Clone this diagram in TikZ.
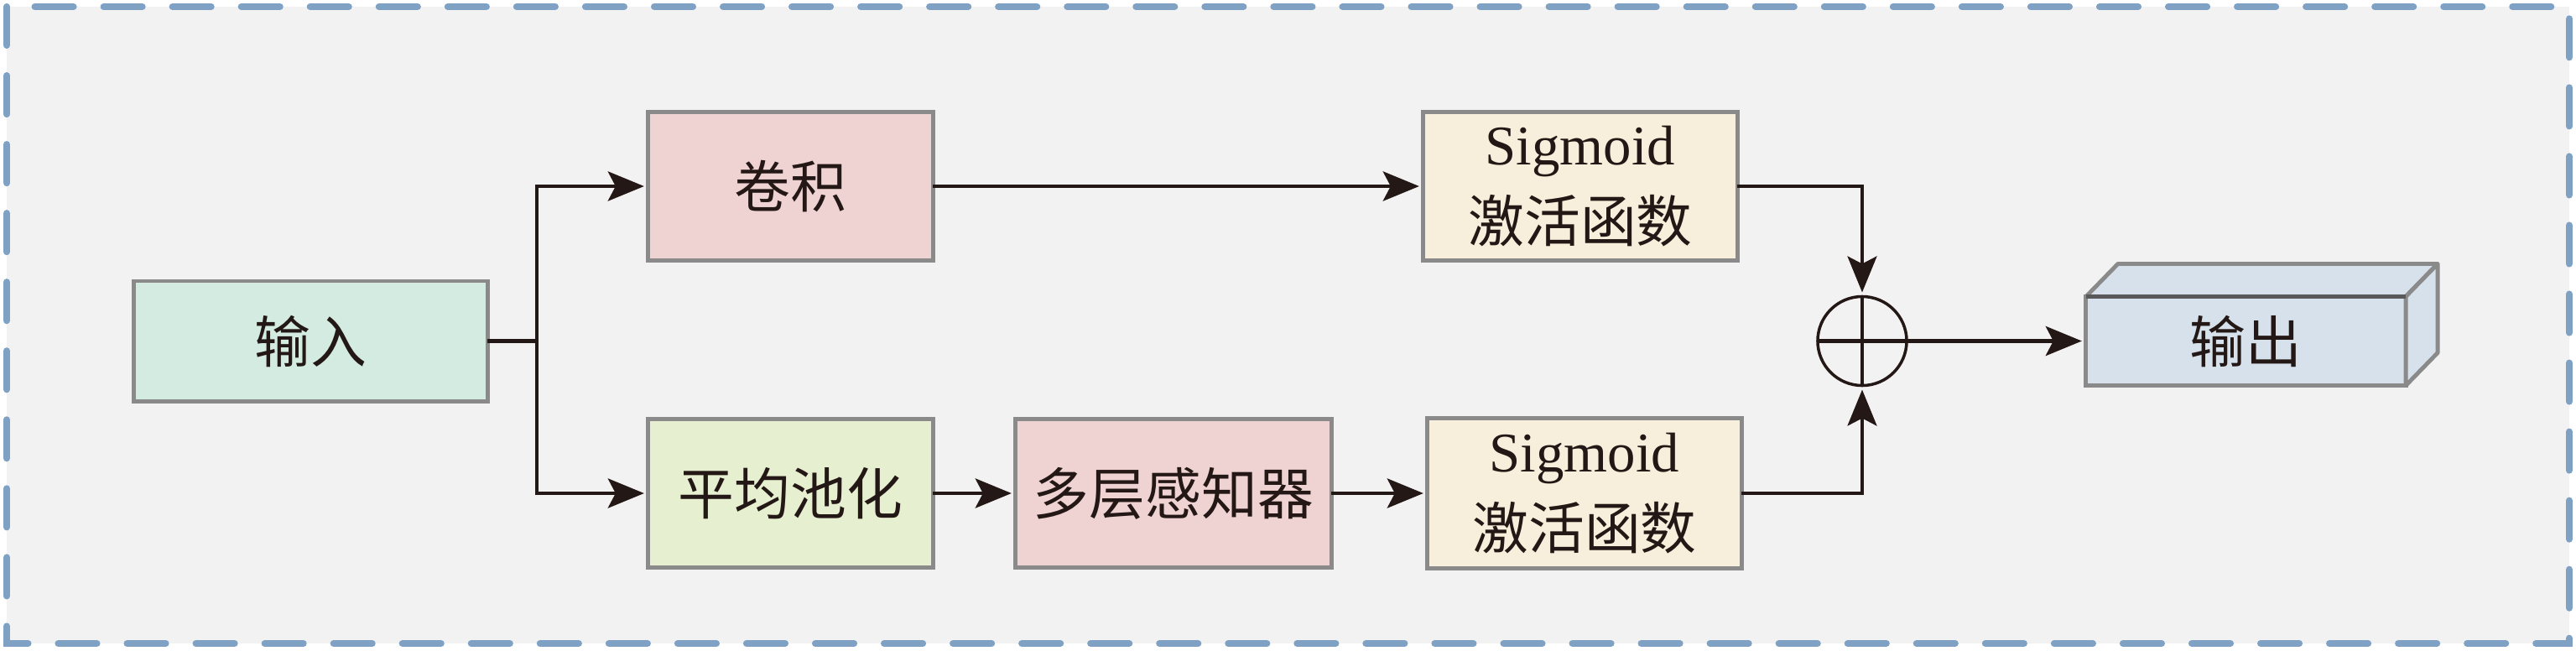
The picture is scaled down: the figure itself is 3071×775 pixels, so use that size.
\documentclass[tikz,border=0pt]{standalone}
\usepackage{fontspec}
\setmainfont{Liberation Serif}
\newfontfamily\cjk{Noto Sans CJK SC}
\usetikzlibrary{arrows.meta,calc}
\definecolor{bgfill}{HTML}{F2F2F2}
\definecolor{dashc}{HTML}{7FA1C4}
\definecolor{boxline}{HTML}{8A8A8A}
\definecolor{cin}{HTML}{D3EBE1}
\definecolor{cpink}{HTML}{EFD3D2}
\definecolor{cpool}{HTML}{E6EFCF}
\definecolor{csig}{HTML}{F7EFDB}
\definecolor{cout}{HTML}{D6E1EB}
\definecolor{ink}{HTML}{231815}
\tikzset{
  blk/.style={draw=boxline, line width=1.4pt, inner sep=0pt, outer sep=0pt,
    align=center, text=ink, font=\fontsize{19}{26}\selectfont},
  conn/.style={draw=ink, line width=1.4pt, shorten >=0.05cm,
    -{Stealth[length=0.43cm,width=0.35cm,inset=0.09cm]}},
  plainconn/.style={draw=ink, line width=1.4pt},
}
\begin{document}
\begin{tikzpicture}[x=0.01cm,y=-0.01cm]
\useasboundingbox (0,0) rectangle (3071,775);
\fill[white] (0,0) rectangle (3071,775);
\fill[bgfill] (8,8) rectangle (3063,767);
\draw[dashc, line width=2.3pt, line cap=round, dash pattern=on 0.46cm off 0.36cm] (8,8) rectangle (3063,767);

\node[blk, fill=cin, minimum width=4.21cm, minimum height=1.43cm] (in) at (370.5,406.5) {\cjk 输入};
\node[blk, fill=cpink, minimum width=3.39cm, minimum height=1.77cm] (conv) at (942.5,222) {\cjk 卷积};
\node[blk, fill=cpool, minimum width=3.39cm, minimum height=1.76cm] (pool) at (942.5,588) {\cjk 平均池化};
\node[blk, fill=cpink, minimum width=3.76cm, minimum height=1.77cm] (mlp) at (1399,588) {\cjk 多层感知器};
\node[blk, fill=csig, minimum width=3.74cm, minimum height=1.77cm] (sig1) at (1884,222) {Sigmoid\\{\cjk 激活函数}};
\node[blk, fill=csig, minimum width=3.74cm, minimum height=1.78cm] (sig2) at (1889,588) {Sigmoid\\{\cjk 激活函数}};

\node[circle, draw=ink, line width=1pt, minimum size=1.06cm, inner sep=0pt, outer sep=0pt] (sum) at (2220,406.5) {};
\draw[ink, line width=1pt] (sum.north) -- (sum.south);
\draw[ink, line width=1.3pt] (sum.west) -- (sum.east);

% output 3D box
\node[blk, fill=cout, minimum width=3.81cm, minimum height=1.06cm] (out) at (2677.5,406.5) {\cjk 输出};
\draw[boxline, line width=1.4pt, fill=cout, line join=round]
  (out.north west) -- ++(38,-39) -- ++(381,0) -- (out.north east) -- cycle;
\draw[boxline, line width=1.4pt, fill=cout, line join=round]
  (out.north east) -- ++(38,-39) -- ++(0,106) -- (out.south east) -- cycle;
\draw[draw=black!65, line width=1.4pt] (out.north west) -- (out.north east);

% connectors
\coordinate (br) at (640,406.5);
\draw[plainconn] (in.east) -- (br);
\draw[conn] (br) |- (conv.west);
\draw[conn] (br) |- (pool.west);
\draw[conn] (conv.east) -- (sig1.west);
\draw[conn] (pool.east) -- (mlp.west);
\draw[conn] (mlp.east) -- (sig2.west);
\draw[conn, line width=1pt] (sig1.east) -| (sum.north);
\draw[conn, line width=1pt] (sig2.east) -| (sum.south);
\draw[conn] (sum.east) -- (out.west);
\end{tikzpicture}
\end{document}
